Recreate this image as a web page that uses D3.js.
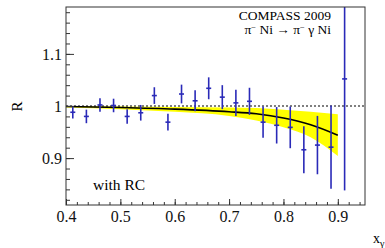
<!DOCTYPE html>
<html>
<head>
<meta charset="utf-8">
<script src="https://cdn.jsdelivr.net/npm/d3@7"></script>
<style>
  body { margin: 0; background: #fff; }
  svg { display: block; }
  svg text { font-family: "Liberation Serif", "Times New Roman", serif; }
</style>
</head>
<body>
<script>
"use strict";

// measured points (x_gamma bin centres, ratio R, stat. error)
const xVals = [0.4125, 0.4375, 0.4625, 0.4875, 0.5125, 0.5375, 0.5625, 0.5875, 0.6125, 0.6375, 0.6625,
               0.6875, 0.7125, 0.7375, 0.7625, 0.7875, 0.8125, 0.8375, 0.8625, 0.8875, 0.9125];
const rVals = [0.988, 0.980, 1.002, 1.001, 0.980, 0.987, 1.020, 0.969, 1.023, 1.010, 1.034,
               1.017, 1.006, 1.009, 0.969, 0.963, 0.959, 0.916, 0.925, 0.921, 1.052];
const rErrs = [0.012, 0.013, 0.013, 0.013, 0.014, 0.015, 0.016, 0.016, 0.018, 0.020, 0.021,
               0.023, 0.025, 0.026, 0.030, 0.035, 0.040, 0.045, 0.056, 0.080, 0.214];

// fit curve with its uncertainty band
const fitX     = [0.40, 0.50, 0.60, 0.70, 0.75, 0.80, 0.85, 0.90];
const fitY     = [0.999, 0.997, 0.994, 0.989, 0.985, 0.977, 0.964, 0.944];
const bandUp   = [1.000, 0.999, 0.998, 0.997, 0.996, 0.993, 0.989, 0.984];
const bandDown = [0.997, 0.994, 0.989, 0.981, 0.972, 0.959, 0.940, 0.904];

const xMajor = [0.4, 0.5, 0.6, 0.7, 0.8, 0.9];
const yMajor = [0.9, 1.0, 1.1];

const w = 385, h = 248;
const margin = { top: 7, right: 20, bottom: 43, left: 66 };

const x = d3.scaleLinear().domain([0.4, 0.95]).range([margin.left, w - margin.right]);
const y = d3.scaleLinear().domain([0.81, 1.19]).range([h - margin.bottom, margin.top]);

const svg = d3.select("body").append("svg")
	.attr("width", w)
	.attr("height", h);

svg.append("clipPath").attr("id", "frame")
	.append("rect")
	.attr("x", x.range()[0]).attr("y", y.range()[1])
	.attr("width", x.range()[1] - x.range()[0])
	.attr("height", y.range()[0] - y.range()[1]);

const plotArea = svg.append("g").attr("clip-path", "url(#frame)");

// yellow band
const band = fitX.map((v, i) => ({ x: v, lo: bandDown[i], hi: bandUp[i] }));
plotArea.append("path")
	.datum(band)
	.attr("fill", "#ffff00")
	.attr("d", d3.area().x(d => x(d.x)).y0(d => y(d.lo)).y1(d => y(d.hi)).curve(d3.curveMonotoneX));

// dotted line at R = 1
plotArea.append("line")
	.attr("x1", x(0.4)).attr("x2", x(0.95))
	.attr("y1", y(1)).attr("y2", y(1))
	.attr("stroke", "#000")
	.attr("stroke-width", 1.2)
	.attr("stroke-dasharray", "2,2");

// fit curve
plotArea.append("path")
	.datum(fitX.map((v, i) => [v, fitY[i]]))
	.attr("fill", "none")
	.attr("stroke", "#000")
	.attr("stroke-width", 1.6)
	.attr("d", d3.line().x(d => x(d[0])).y(d => y(d[1])).curve(d3.curveMonotoneX));

// data points with error bars
const pts = xVals.map((v, i) => ({ x: v, r: rVals[i], e: rErrs[i] }));
const pg = plotArea.append("g").attr("stroke", "#2a2ab8").attr("stroke-width", 1.6);
pg.selectAll("line.err").data(pts).join("line")
	.attr("class", "err")
	.attr("x1", d => x(d.x)).attr("x2", d => x(d.x))
	.attr("y1", d => y(d.r - d.e)).attr("y2", d => y(d.r + d.e));
pg.selectAll("line.mark").data(pts).join("line")
	.attr("class", "mark")
	.attr("x1", d => x(d.x) - 2.5).attr("x2", d => x(d.x) + 2.5)
	.attr("y1", d => y(d.r)).attr("y2", d => y(d.r));

// axes, ticks pointing inwards
const xMinor = d3.range(0, 28).map(i => 0.4 + i * 0.02).filter(v => v < 0.951);
const yMinor = d3.range(0, 19).map(i => 0.82 + i * 0.02);

const xAxis = d3.axisBottom(x).tickValues(xMajor).tickSizeInner(-6).tickSizeOuter(0)
	.tickPadding(6).tickFormat(d3.format(".1f"));
const xAxisMinor = d3.axisBottom(x).tickValues(xMinor).tickSizeInner(-3).tickSizeOuter(0).tickFormat("");
const yAxis = d3.axisLeft(y).tickValues(yMajor).tickSizeInner(-8).tickSizeOuter(0)
	.tickPadding(4).tickFormat(d => d === 1 ? "1" : d3.format(".1f")(d));
const yAxisMinor = d3.axisLeft(y).tickValues(yMinor).tickSizeInner(-4).tickSizeOuter(0).tickFormat("");

const bottom = y.range()[0], left = x.range()[0];
[xAxisMinor, xAxis].forEach(a => svg.append("g").attr("transform", `translate(0,${bottom})`).call(a));
[yAxisMinor, yAxis].forEach(a => svg.append("g").attr("transform", `translate(${left},0)`).call(a));
svg.selectAll(".domain").remove();
svg.selectAll(".tick line").attr("stroke", "#333");
svg.selectAll(".tick text")
	.style("font-family", "'Liberation Serif', serif")
	.style("font-size", "16px")
	.attr("fill", "#111");

// frame
svg.append("rect")
	.attr("x", x.range()[0]).attr("y", y.range()[1])
	.attr("width", x.range()[1] - x.range()[0])
	.attr("height", y.range()[0] - y.range()[1])
	.attr("fill", "none")
	.attr("stroke", "#333")
	.attr("stroke-width", 1);

// texts
svg.append("text")
	.attr("x", 331).attr("y", 19.5)
	.attr("text-anchor", "end")
	.attr("font-size", 13.5)
	.text("COMPASS 2009");

const reac = svg.append("text")
	.attr("x", 331).attr("y", 34)
	.attr("text-anchor", "end")
	.attr("font-size", 13.5);
reac.append("tspan").text("π");
reac.append("tspan").attr("dy", -4).attr("font-size", 8.5).text("−");
reac.append("tspan").attr("dy", 4).text(" Ni → π");
reac.append("tspan").attr("dy", -4).attr("font-size", 8.5).text("−");
reac.append("tspan").attr("dy", 4).text(" γ Ni");

svg.append("text")
	.attr("x", 93).attr("y", 190)
	.attr("font-size", 15.5)
	.text("with RC");

svg.append("text")
	.attr("transform", "translate(22,106.5) rotate(-90)")
	.attr("text-anchor", "middle")
	.attr("font-size", 15)
	.text("R");

const xt = svg.append("text")
	.attr("x", 373).attr("y", 243)
	.attr("font-size", 14);
xt.append("tspan").text("x");
xt.append("tspan").attr("dy", 3.5).attr("font-size", 10).text("γ");
</script>
</body>
</html>
